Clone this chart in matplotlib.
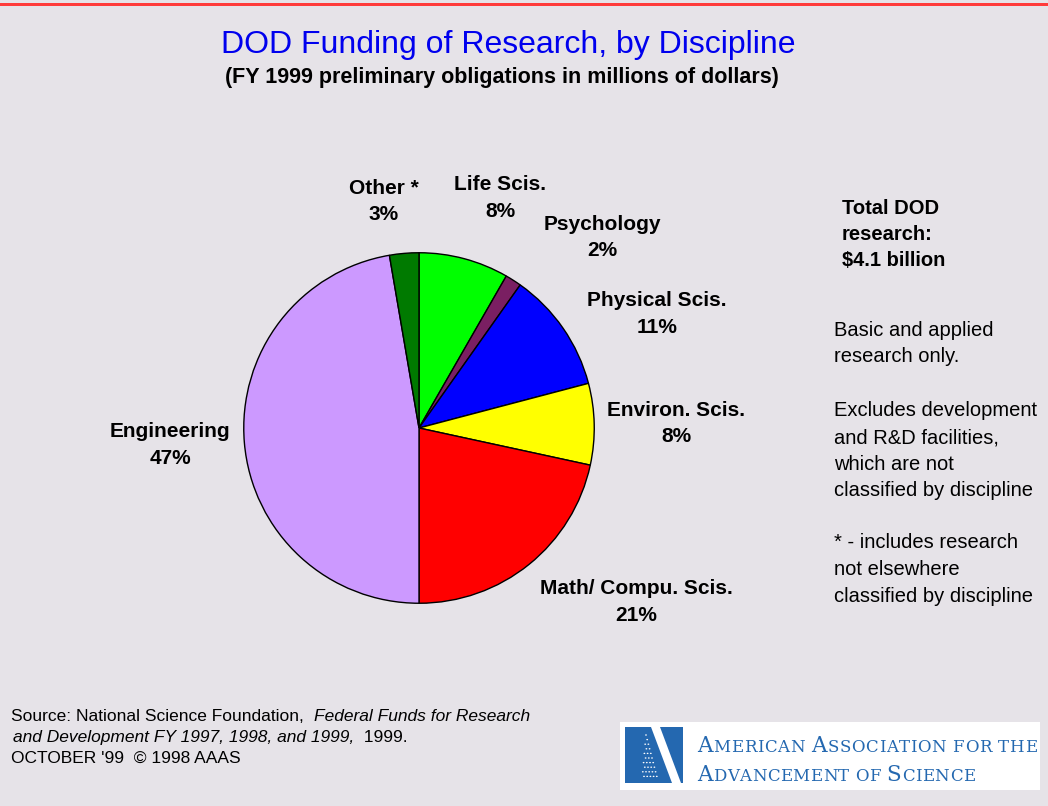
import matplotlib
matplotlib.use('Agg')
import matplotlib.pyplot as plt
from matplotlib.patches import Rectangle, Polygon, Circle

# data: FY 1999 DOD research shares (percent)
categories = ['Life Scis.', 'Psychology', 'Physical Scis.', 'Environ. Scis.',
              'Math/ Compu. Scis.', 'Engineering', 'Other *']
shares = [8.3, 1.5, 11.1, 7.5, 21.6, 47.3, 2.7]
share_labels = ['8%', '2%', '11%', '8%', '21%', '47%', '3%']
colors = ['#00ff00', '#7a1f62', '#0000ff', '#ffff00', '#ff0000', '#cc99ff', '#007a00']

# label centres in pixels (x, y of the name line)
label_pos = [(500, 185), (602, 224), (657, 301), (676, 410),
             (636, 589), (170, 432), (384, 188)]

W, H = 1048, 806
BG = '#e6e3e8'


def px(x, y):
    return x / W, 1 - y / H


fig = plt.figure(figsize=(W / 100, H / 100), dpi=100)
fig.patch.set_facecolor(BG)
plt.rcParams['font.family'] = ['Liberation Sans', 'DejaVu Sans']
renderer = fig.canvas.get_renderer()


def chain(x, y, pieces, track=0.0, **kw):
    # put text pieces one after another on the same baseline, x/y in pixels
    for s, opts in pieces:
        t = fig.text(*px(x, y), s, va='baseline', zorder=5, **kw, **opts)
        x = t.get_window_extent(renderer).x1 + track
    return x


# red rule at top
fig.add_artist(Rectangle(px(0, 6), 1, 3 / H, transform=fig.transFigure,
                         color='#ff3b3b', lw=0))

# title
fig.text(*px(508, 45), 'DOD Funding of Research, by Discipline', color='#0000ee',
         fontsize=23, ha='center', va='center')
fig.text(*px(502, 78), '(FY 1999 preliminary obligations in millions of dollars)',
         fontsize=15.5, fontweight='bold', ha='center', va='center')

# pie
cx, cy, r = 419, 428, 177
ax = fig.add_axes([(cx - r) / W, (H - cy - r) / H, 2 * r / W, 2 * r / H])
ax.pie(shares, colors=colors, startangle=90, counterclock=False,
       wedgeprops=dict(edgecolor='black', linewidth=1))
ax.set_xlim(-1.01, 1.01)
ax.set_ylim(-1.01, 1.01)
ax.set_aspect('auto')
ax.axis('off')

for name, pct, (x, y) in zip(categories, share_labels, label_pos):
    fig.text(*px(x, y), name, fontsize=15, fontweight='bold', ha='center', va='center')
    fig.text(*px(x, y + 26.5), pct, fontsize=15, fontweight='bold', ha='center', va='center')

# side notes
for i, line in enumerate(['Total DOD', 'research:', '$4.1 billion']):
    fig.text(*px(842, 208 + 26.5 * i), line, fontsize=14.5, fontweight='bold', va='center')

notes = [(330, ['Basic and applied', 'research only.']),
         (411, ['Excludes development', 'and R&D facilities,', 'which are not',
                'classified by discipline']),
         (543, ['* - includes research', 'not elsewhere', 'classified by discipline'])]
for y0, lines in notes:
    for i, line in enumerate(lines):
        fig.text(*px(834, y0 + 26.5 * i), line, fontsize=14.5, va='center')

# source lines
chain(11, 721, [('Source: National Science Foundation,  ', {'fontsize': 12.5}),
                ('Federal Funds for Research', {'style': 'italic', 'fontsize': 12.5})])
chain(13, 742, [('and Development FY 1997, 1998, and 1999,', {'style': 'italic', 'fontsize': 12.5}),
                ('  1999.', {'fontsize': 12.5})])
fig.text(*px(11, 763), "OCTOBER '99  \u00a9 1998 AAAS", fontsize=12.5, va='baseline')

# AAAS logo box
blue = '#2468b0'
fig.add_artist(Rectangle(px(620, 790), 420 / W, 68 / H, transform=fig.transFigure,
                         facecolor='white', edgecolor='none'))
fig.add_artist(Polygon([px(625, 727), px(651, 727), px(672, 783), px(625, 783)],
                       closed=True, transform=fig.transFigure, facecolor=blue, lw=0))
fig.add_artist(Polygon([px(660, 727), px(683, 727), px(683, 783), px(681, 783)],
                       closed=True, transform=fig.transFigure, facecolor=blue, lw=0))
for row in range(10):
    for col in range(row // 2 + 1):
        x = 646 - col * 3.2 + row * 1.2
        y = 735 + row * 4.6
        fig.add_artist(Circle(px(x, y), 0.9 / W, transform=fig.transFigure,
                              facecolor='white', lw=0))


def small_caps(x, y, words, x_end, big=15.5, small=12):
    pieces = []
    for wi, word in enumerate(words):
        if wi:
            pieces.append((' ', {'fontsize': small}))
        for ci, ch in enumerate(word):
            size = big if ci == 0 and len(word) > 3 else small
            pieces.append((ch, {'fontsize': size}))
    font = dict(color=blue, family='DejaVu Serif')
    # measure natural width, then spread the letters to the logo width
    probe = [fig.text(0, 0, s, **font, **o) for s, o in pieces]
    natural = sum(t.get_window_extent(renderer).width for t in probe)
    for t in probe:
        t.remove()
    track = (x_end - x - natural) / (len(pieces) - 1)
    chain(x, y, pieces, track=track, **font)


small_caps(697, 752, ['AMERICAN', 'ASSOCIATION', 'FOR', 'THE'], 1037)
small_caps(697, 781, ['ADVANCEMENT', 'OF', 'SCIENCE'], 975)

fig.savefig('out.png', dpi=100, facecolor=BG)
